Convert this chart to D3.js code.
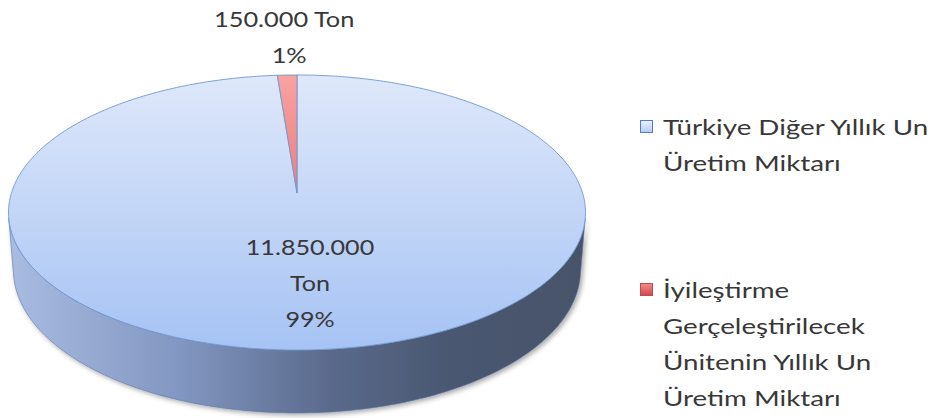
<!DOCTYPE html>
<html><head><meta charset="utf-8">
<script src="https://cdn.jsdelivr.net/npm/d3@7"></script>
<style>
html,body{margin:0;background:#fff}
svg{display:block}
text{font-family:Lato,"Noto Sans",sans-serif;fill:#383838}
</style>
</head><body>
<svg id="chart" width="936" height="418"></svg>
<script>
// Annual flour production split (tons)
const categories = ["Türkiye Diğer Yıllık Un Üretim Miktarı", "İyileştirme Gerçeleştirilecek Ünitenin Yıllık Un Üretim Miktarı"];
const values = [11850000, 150000];
const valueLabels = [["11.850.000", "Ton", "99%"], ["150.000 Ton", "1%"]];
const legendLines = [["Türkiye Diğer Yıllık Un", "Üretim Miktarı"], ["İyileştirme", "Gerçeleştirilecek", "Ünitenin Yıllık Un", "Üretim Miktarı"]];

const svg = d3.select("#chart");
const defs = svg.append("defs");

// 3D view parameters: tilt, camera distance, focal length, disc thickness
const tilt = 27.8 * Math.PI / 180, S = Math.sin(tilt), C = Math.cos(tilt);
const D = 6.24, F = 1803, FX = 1782, H = 0.226;
const cx = 297, cy = 193;

function project(X, Y, Z) {
  const yc = Z * S - Y * C;
  const zc = D - Z * C - Y * S;
  return [cx + FX * X / zc, cy + F * yc / zc];
}
// angle measured clockwise from 12 o'clock, r in units of disc radius
const pt = (a, r, Y) => project(r * Math.sin(a), Y, -r * Math.cos(a));

const pie = d3.pie().sort(null).value(d => d)(values);

// gradients
function vGrad(id, stops, y1, y2) {
  const g = defs.append("linearGradient").attr("id", id).attr("gradientUnits", "userSpaceOnUse")
    .attr("x1", 0).attr("x2", 0).attr("y1", y1).attr("y2", y2);
  stops.forEach(([o, c]) => g.append("stop").attr("offset", o).attr("stop-color", c));
}
function hGrad(id, stops, x1, x2) {
  const g = defs.append("linearGradient").attr("id", id).attr("gradientUnits", "userSpaceOnUse")
    .attr("x1", x1).attr("x2", x2).attr("y1", 0).attr("y2", 0);
  stops.forEach(([o, c]) => g.append("stop").attr("offset", o).attr("stop-color", c));
}
vGrad("topBlue", [[0, "#dfe8fa"], [1, "#a6c3f4"]], 75, 350);
vGrad("topRed", [[0, "#f8a2a2"], [0.5, "#ec7777"], [1, "#d84c4c"]], 75, 350);
hGrad("sideBlue", [[0, "#a9bce2"], [0.3, "#8196c0"], [0.55, "#5b6b8d"], [0.75, "#4b5872"], [1, "#475369"]], 8, 586);
hGrad("sideRed", [[0, "#e08a8a"], [1, "#7a3434"]], 8, 586);
defs.append("linearGradient").attr("id", "legBlue").attr("x1", 0).attr("x2", 0).attr("y1", 0).attr("y2", 1)
  .call(g => { g.append("stop").attr("offset", 0).attr("stop-color", "#eef3fc"); g.append("stop").attr("offset", 1).attr("stop-color", "#b3cbf3"); });
defs.append("linearGradient").attr("id", "legRed").attr("x1", 0).attr("x2", 0).attr("y1", 0).attr("y2", 1)
  .call(g => { g.append("stop").attr("offset", 0).attr("stop-color", "#f48d8d"); g.append("stop").attr("offset", 1).attr("stop-color", "#d04848"); });

const topFill = ["url(#topBlue)", "url(#topRed)"];
const sideFill = ["url(#sideBlue)", "url(#sideRed)"];

const shadow = defs.append("filter").attr("id", "shadow").attr("x", "-10%").attr("y", "-10%").attr("width", "120%").attr("height", "130%");
shadow.append("feGaussianBlur").attr("in", "SourceAlpha").attr("stdDeviation", 2.5);
shadow.append("feOffset").attr("dx", 2).attr("dy", 2).attr("result", "b");
shadow.append("feComponentTransfer").append("feFuncA").attr("type", "linear").attr("slope", 0.35);
const m = shadow.append("feMerge");
m.append("feMergeNode");
m.append("feMergeNode").attr("in", "SourceGraphic");

const line = d3.line();
function arcPts(a0, a1, r, Y) {
  const n = Math.max(2, Math.ceil(Math.abs(a1 - a0) * 60));
  return d3.range(n + 1).map(i => pt(a0 + (a1 - a0) * i / n, r, Y));
}

// outer wall: only the part facing the camera
const k = 1 / (D * C);
const vis0 = Math.acos(-k), vis1 = 2 * Math.PI - vis0;
const walls = svg.append("g").attr("filter", "url(#shadow)");
pie.forEach((p, i) => {
  const a0 = Math.max(p.startAngle, vis0), a1 = Math.min(p.endAngle, vis1);
  if (a1 <= a0) return;
  const pts = arcPts(a0, a1, 1, 0).concat(arcPts(a1, a0, 1, -H));
  walls.append("path").attr("d", line(pts) + "Z").attr("fill", sideFill[i])
    .attr("stroke", "#5b77a8").attr("stroke-width", 0.6);
});

// top faces
const tops = svg.append("g");
pie.forEach((p, i) => {
  const pts = [pt(0, 0, 0)].concat(arcPts(p.startAngle, p.endAngle, 1, 0));
  tops.append("path").attr("d", line(pts) + "Z").attr("fill", topFill[i])
    .attr("stroke", "#7097cf").attr("stroke-width", 0.9).attr("stroke-linejoin", "round");
});

// data labels
const fs = 21.5, lh = 36;
function textBlock(g, lines, x, y, anchor, sx) {
  lines.forEach((t, j) => {
    g.append("text").attr("transform", `translate(${x},${y + j * lh}) scale(${sx},1)`)
      .attr("text-anchor", anchor).attr("font-size", fs).text(t);
  });
}
const labels = svg.append("g");
{
  const p = pie[0], mid = (p.startAngle + p.endAngle) / 2;
  const [x, y] = pt(mid, 0.5, 0);
  textBlock(labels, valueLabels[0], x + 7, y - 10, "middle", 1.17);
}
{
  const p = pie[1], mid = (p.startAngle + p.endAngle) / 2;
  const [x, y] = pt(mid, 1, 0);
  textBlock(labels, [valueLabels[1][0]], x - 3, y - 48, "middle", 1.18);
  textBlock(labels, [valueLabels[1][1]], x + 2, y - 12, "middle", 1.18);
}

// legend
const legend = svg.append("g");
const legTop = [135, 298];
const legFill = ["url(#legBlue)", "url(#legRed)"];
const legStroke = ["#4f7ec4", "#c24a4a"];
categories.forEach((c, i) => {
  const g = legend.append("g");
  g.append("rect").attr("x", 640.5).attr("y", legTop[i] - 14.5).attr("width", 12).attr("height", 12)
    .attr("fill", legFill[i]).attr("stroke", legStroke[i]).attr("stroke-width", 1);
  textBlock(g, legendLines[i], 663, legTop[i], "start", 1.29);
});
</script>
</body></html>
